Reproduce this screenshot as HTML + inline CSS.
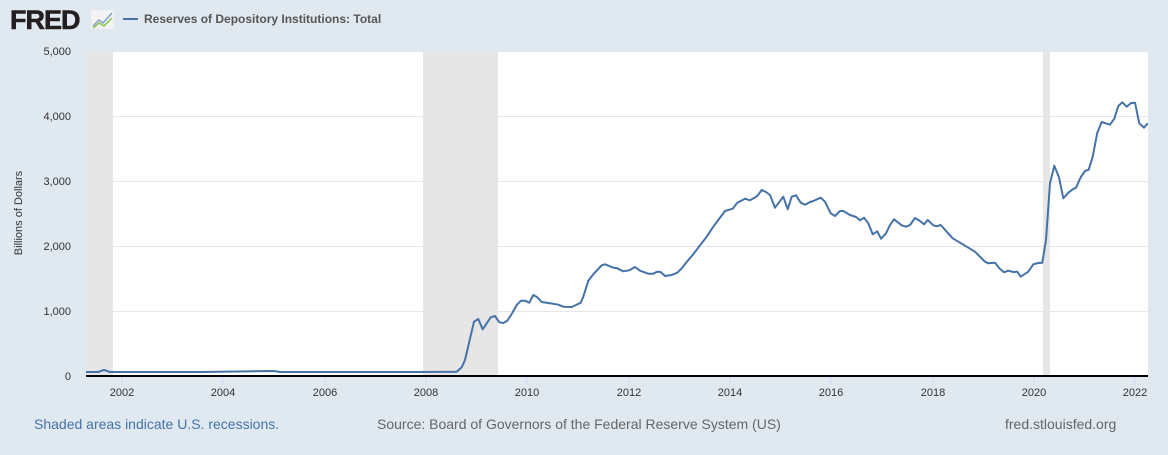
<!DOCTYPE html>
<html><head><meta charset="utf-8"><style>
body{margin:0;background:#e1e9f0;width:1168px;height:450px;overflow:hidden;font-family:"Liberation Sans",Arial,sans-serif;}
</style></head><body>
<svg width="1168" height="450" xmlns="http://www.w3.org/2000/svg" font-family="Liberation Sans, Arial, sans-serif">
<rect width="1168" height="450" fill="#e1e9f0"/>
<text x="10" y="29" font-size="27" font-weight="bold" fill="#231f20" letter-spacing="-1" stroke="#231f20" stroke-width="0.6">FRED</text>
<rect x="91" y="10" width="23" height="19" fill="#f2f2f2" rx="2"/>
<polyline points="93,26 99,20 103,23 112,13" fill="none" stroke="#7fa6c9" stroke-width="1.5"/>
<polyline points="93,28 99,23 104,26 112,18" fill="none" stroke="#8dc153" stroke-width="1.5"/>
<line x1="123" y1="19" x2="138" y2="19" stroke="#4572a7" stroke-width="2"/>
<text x="144" y="23" font-size="12" font-weight="bold" fill="#555">Reserves of Depository Institutions: Total</text>
<rect x="86" y="51" width="1062" height="325" fill="#fff"/>
<rect x="86" y="51" width="27" height="325" fill="#e6e6e6"/>
<rect x="423" y="51" width="75" height="325" fill="#e6e6e6"/>
<rect x="1043" y="51" width="7" height="325" fill="#e6e6e6"/>
<g stroke="#e6e6e6" stroke-width="1">
<line x1="86" y1="51.5" x2="1148" y2="51.5"/><line x1="86" y1="116.5" x2="1148" y2="116.5"/>
<line x1="86" y1="181.5" x2="1148" y2="181.5"/><line x1="86" y1="246.5" x2="1148" y2="246.5"/>
<line x1="86" y1="311.5" x2="1148" y2="311.5"/></g>
<g font-size="11" fill="#333" text-anchor="end">
<text x="71" y="55">5,000</text><text x="71" y="120">4,000</text><text x="71" y="185">3,000</text>
<text x="71" y="250">2,000</text><text x="71" y="315">1,000</text><text x="71" y="380">0</text></g>
<text transform="translate(22,213) rotate(-90)" font-size="11" fill="#333" text-anchor="middle">Billions of Dollars</text>
<g stroke="#ccd6eb"><line x1="122" y1="377" x2="122" y2="385"/><line x1="223" y1="377" x2="223" y2="385"/><line x1="325" y1="377" x2="325" y2="385"/><line x1="426" y1="377" x2="426" y2="385"/><line x1="527" y1="377" x2="527" y2="385"/><line x1="629" y1="377" x2="629" y2="385"/><line x1="730" y1="377" x2="730" y2="385"/><line x1="831" y1="377" x2="831" y2="385"/><line x1="933" y1="377" x2="933" y2="385"/><line x1="1034" y1="377" x2="1034" y2="385"/><line x1="1135" y1="377" x2="1135" y2="385"/></g>
<g font-size="11" fill="#333" text-anchor="middle">
<text x="122" y="396">2002</text><text x="223" y="396">2004</text><text x="325" y="396">2006</text><text x="426" y="396">2008</text><text x="527" y="396">2010</text><text x="629" y="396">2012</text><text x="730" y="396">2014</text><text x="831" y="396">2016</text><text x="933" y="396">2018</text><text x="1034" y="396">2020</text><text x="1135" y="396">2022</text></g>
<polyline fill="none" stroke="#4572a7" stroke-width="2" stroke-linejoin="round" points="86,372 98,372 104,370 110,372 200,372 274,371 280,372 420,372 456.7,371.7 461.7,367.3 465,360 474,321.7 478.3,319 482.7,329.3 490.7,317.3 495,316 499.3,322.3 503.3,323 507.3,320.7 511.7,314 516.7,305 521,300.7 525,300.7 529.3,302.7 533.3,295 537.3,297.3 541.7,302 550,303.3 558.3,304.7 563.3,306.7 571.7,307 576,305 580.7,302.7 583.3,296.7 588.3,280.7 593.3,274.3 601.7,265.3 605,264.3 613.3,267.7 617.3,268.3 623.3,271.3 629.3,270.3 635,267 640,270.7 648.3,273.7 653.3,273.7 657.3,271.7 660.7,272 665,276 671.7,275 677.3,272.7 681.7,268.3 686.7,262 694,253.3 700,245.3 706.7,236.7 713.3,226.7 725,211 732.7,208.7 737.3,202.7 745,198.7 750,200.3 757.3,196 761.7,190 766,192 770,195 775,207.7 783.3,196.7 787.7,209.3 791.7,196.7 796,195.3 800.7,202.7 805,204.7 810,202 813.3,201 820.7,197.7 825,201.7 830.7,213.3 835,216 840,211 843.3,211 850,215 856,217 860,220.3 864,217.7 868.3,223.3 872.7,234.3 877.3,231.3 881,238.7 886,233.3 890,225 894,219.3 901.7,225.3 906,226.7 910,225 915,218 920,221 924,224.3 927.7,220 933.3,225.3 936.7,226.3 940.7,225 946.7,231.7 952.7,238.3 960,242.7 966.7,246.7 975,251.7 980,256.7 985,261.7 988.3,263.3 995,262.7 999.3,268.3 1004,272.3 1008.3,270.7 1013.3,272 1017.3,271.7 1020.7,276.7 1028.3,271.7 1033.3,264.3 1038.3,263 1042.3,262.7 1046,240 1050,183.3 1054.3,165.7 1059,177.3 1063.3,198.3 1068.3,192.7 1072.7,189.3 1076,187.7 1080.7,177.3 1085,171 1088.7,169.7 1092.7,156.7 1097.3,132.7 1101.7,122 1110,124.7 1114.3,118.7 1118.3,106 1122.3,102.3 1126.7,106.7 1131,103 1135,102.7 1139.3,123.3 1144,127.7 1147.7,123.3"/>
<line x1="86" y1="376" x2="1148" y2="376" stroke="#000" stroke-width="2"/>
<text x="34" y="429" font-size="14" fill="#4572a7">Shaded areas indicate U.S. recessions.</text>
<text x="377" y="429" font-size="14" fill="#666">Source: Board of Governors of the Federal Reserve System (US)</text>
<text x="1005" y="429" font-size="14" fill="#666">fred.stlouisfed.org</text>
</svg>
</body></html>
